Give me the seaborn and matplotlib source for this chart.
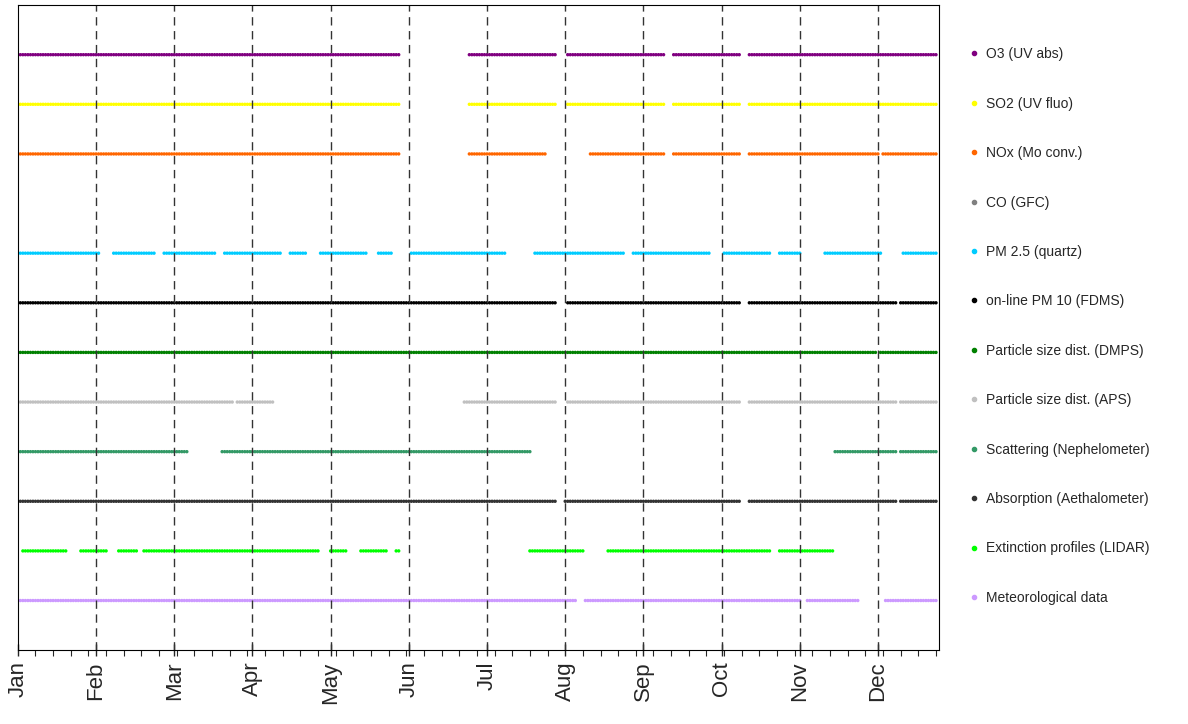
import numpy as np
import pandas as pd
import seaborn as sns
import matplotlib.pyplot as plt

instruments = ['O3 (UV abs)', 'SO2 (UV fluo)', 'NOx (Mo conv.)', 'CO (GFC)', 'PM 2.5 (quartz)',
               'on-line PM 10 (FDMS)', 'Particle size dist. (DMPS)', 'Particle size dist. (APS)',
               'Scattering (Nephelometer)', 'Absorption (Aethalometer)',
               'Extinction profiles (LIDAR)', 'Meteorological data']
colors = ['#800080', '#ffff00', '#ff6600', '#808080', '#00ccff', '#000000', '#008000',
          '#c0c0c0', '#339966', '#333333', '#00ff00', '#cc99ff']
# day-of-year ranges with data (start, end)
o3 = [(0, 151), (179, 213), (218, 256), (260, 286), (290, 364)]
so2 = [(0, 151), (179, 213), (218, 256), (260, 286), (290, 364)]
nox = [(0, 151), (179, 209), (227, 256), (260, 286), (290, 341), (343, 364)]
co = []
pm25 = [(0, 32), (38, 54), (58, 78), (82, 104), (108, 114), (120, 138), (143, 148), (156, 193),
        (205, 240), (244, 274), (280, 298), (302, 310), (320, 342), (351, 364)]
pm10 = [(0, 213), (218, 286), (290, 348), (350, 364)]
dmps = [(0, 340), (342, 364)]
aps = [(0, 85), (87, 101), (177, 213), (218, 286), (290, 348), (350, 364)]
neph = [(0, 67), (81, 203), (324, 348), (350, 364)]
aeth = [(0, 213), (217, 286), (290, 348), (350, 364)]
lidar = [(2, 19), (25, 35), (40, 47), (50, 119), (124, 130), (136, 146), (150, 151), (203, 224),
         (234, 298), (302, 323)]
met = [(0, 151), (152, 221), (225, 310), (313, 333), (344, 364)]
ranges = [o3, so2, nox, co, pm25, pm10, dmps, aps, neph, aeth, lidar, met]
months = ['Jan', 'Feb', 'Mar', 'Apr', 'May', 'Jun', 'Jul', 'Aug', 'Sep', 'Oct', 'Nov', 'Dec']

rows = []
for i, (name, rr) in enumerate(zip(instruments, ranges)):
    for a, b in rr:
        for d in range(a, b + 1):
            rows.append((d, 12 - i, name))
df = pd.DataFrame(rows, columns=['day', 'y', 'inst'])

sns.set_style('white')
plt.rcParams['font.family'] = ['Liberation Sans', 'DejaVu Sans']
fig = plt.figure(figsize=(11.88, 7.24), dpi=100)
ax = fig.add_axes([0.015, 0.102, 0.775, 0.891])
sns.scatterplot(data=df, x='day', y='y', hue='inst', hue_order=instruments,
                palette=colors, s=6, linewidth=0, ax=ax, legend=False)
ax.set_xlim(0, 365)
ax.set_ylim(0, 13)
ax.set_yticks([])
ax.set_xlabel('')
ax.set_ylabel('')
# Excel-style axis: major unit 31 days, minor 7 days
ticks = np.arange(0, 365, 31)
ax.set_xticks(ticks)
ax.set_xticklabels(months, rotation=90, fontsize=16)
ax.set_xticks(np.arange(0, 365, 7), minor=True)
ax.tick_params(axis='x', which='major', length=8, width=1, direction='inout', bottom=True, pad=4)
ax.tick_params(axis='x', which='minor', length=4, width=0.8, direction='out', bottom=True)
for m in ticks[1:]:
    ax.axvline(m, color='#333333', linestyle=(0, (6, 4)), linewidth=1)
for s in ax.spines.values():
    s.set_color('black')

handles = [plt.Line2D([], [], marker='o', linestyle='', markersize=3, color=c) for c in colors]
fig.legend(handles, instruments, loc='upper left', bbox_to_anchor=(0.805, 0.952),
           frameon=False, fontsize=10, labelspacing=2.55, handletextpad=0.4, handlelength=0.8)
fig.savefig('out.png', dpi=100)
